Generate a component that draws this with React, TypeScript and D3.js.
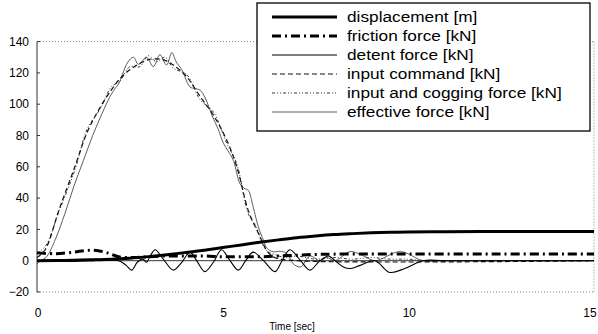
import React from "react";
import * as d3 from "d3";

// ---- data ----
const yTicks = [-20, 0, 20, 40, 60, 80, 100, 120, 140];
const xTicks = [0, 5, 10, 15];

const dispT = [0, 1, 1.5, 2, 2.5, 3, 3.5, 4, 4.5, 5, 5.5, 6, 6.5, 7, 7.5, 8, 8.5, 9, 9.5, 10, 11, 12, 13, 14, 15];
const dispV = [0, 0.2, 0.5, 0.9, 1.6, 2.6, 3.8, 5.2, 6.7, 8.4, 10.1, 11.8, 13.3, 14.7, 15.8, 16.7, 17.3, 17.8, 18.1, 18.3, 18.5, 18.6, 18.6, 18.6, 18.6];

const fricT = [0, 0.5, 1, 1.3, 1.6, 1.9, 2.2, 2.6, 3, 3.5, 4, 4.5, 5, 5.5, 6, 6.5, 7, 7.5, 8, 9, 10, 12, 15];
const fricV = [5, 4.5, 5.5, 6.5, 6.5, 5, 2.5, 2, 2.5, 3, 3, 3, 2.5, 2.5, 2.5, 3, 3.5, 4, 4.2, 4.3, 4.3, 4.3, 4.3];

const detT = [0, 2.2, 2.4, 2.55, 2.7, 2.85, 2.95, 3.05, 3.18, 3.4, 3.67, 3.9, 4.12, 4.3, 4.52, 4.75, 4.97, 5.2, 5.42, 5.62, 5.82, 6.1, 6.41, 6.6, 6.81, 7.1, 7.35, 7.62, 7.85, 8.03, 8.25, 8.45, 8.7, 9.1, 9.5, 9.9, 10.4, 11, 15];
const detV = [0, 0, -3, -6, -1, 1, -1, 3, 7, 1, -6, -1, 5.5, 0, -7, -1, 7, 0, -6, 0, 5.5, 0, -7, 0, 7, 0, -6, 0, 3, 0, -4, -5, -3, 0, -7.5, -5, 0, 0, 0];

const inT = [0, 0.22, 0.6, 1.02, 1.35, 1.7, 2, 2.24, 2.5, 2.77, 3, 3.22, 3.45, 3.67, 4.03, 4.39, 4.75, 5.11, 5.38, 5.69, 5.92, 6.05, 6.2, 6.4, 7, 15];
const inV = [2, 7, 33, 60, 82, 98, 109, 116.5, 122, 126, 128.5, 129, 128, 125, 117.6, 105, 93, 77, 60, 32, 19.6, 13, 6, 2, 0, 0];

const icT = [0, 0.22, 0.6, 1.02, 1.35, 1.7, 2, 2.24, 2.5, 2.77, 3, 3.22, 3.45, 3.67, 4.03, 4.39, 4.75, 5.11, 5.38, 5.69, 5.92, 6.05, 6.2, 6.4, 6.7, 7, 7.5, 8, 8.5, 9, 9.5, 10, 10.4, 11, 15];
const icV = [5, 9, 32, 58, 84, 97, 111, 115, 124, 124, 131, 127, 130, 123, 119, 103, 95, 75, 62, 30, 21, 12, 6, 4, 2, 3, 1, 2, 1, 2, 1, 1, 0, 0, 0];

const effT = [0, 0.1, 0.26, 0.5, 0.75, 1, 1.25, 1.5, 1.75, 1.97, 2.1, 2.2, 2.3, 2.45, 2.6, 2.73, 2.95, 3.13, 3.31, 3.49, 3.63, 3.75, 3.9, 4.12, 4.25, 4.39, 4.53, 4.71, 4.88, 5.02, 5.15, 5.29, 5.47, 5.6, 5.69, 5.82, 5.96, 6.1, 6.19, 6.36, 6.54, 6.72, 6.9, 7.1, 7.35, 7.62, 7.8, 8.03, 8.43, 8.8, 9.1, 9.78, 10.4, 11, 15];
const effV = [-2, 0, 2.6, 14, 30, 48, 64, 80, 94, 105, 110, 113, 119, 127, 130, 125.5, 130, 124, 131.6, 125, 133, 127, 122, 111, 110, 109, 104, 93, 84, 75, 70, 64, 49, 46, 45, 34.5, 21.7, 13, 8, 5.7, 6, 4.7, -2, -4, 3, 0, 2, 0, 5.8, 3, 0, 5.8, 0, 0, 0];

const legendLabels = [
  "displacement [m]",
  "friction force [kN]",
  "detent force [kN]",
  "input command [kN]",
  "input and cogging force [kN]",
  "effective force [kN]",
];

type Style = { w: number; dash: string; color: string };
const styles: Style[] = [
  { w: 3, dash: "", color: "#000" },
  { w: 3, dash: "9,4,2,4", color: "#000" },
  { w: 1.1, dash: "", color: "#000" },
  { w: 1.2, dash: "5,3", color: "#111" },
  { w: 0.9, dash: "3,2,1,2,1,2", color: "#222" },
  { w: 0.8, dash: "", color: "#333" },
];

const series = [
  { t: dispT, v: dispV },
  { t: fricT, v: fricV },
  { t: detT, v: detV },
  { t: inT, v: inV },
  { t: icT, v: icV },
  { t: effT, v: effV },
];

export default function App() {
  const W = 598, H = 334;
  const x = d3.scaleLinear().domain([0, 15]).range([37, 594]);
  const y = d3.scaleLinear().domain([-20, 140]).range([292, 41.6]);
  const line = d3
    .line<[number, number]>()
    .x((d) => x(d[0]))
    .y((d) => y(d[1]))
    .curve(d3.curveCatmullRom.alpha(0.5));

  const font = "'Liberation Sans', Arial, sans-serif";
  const legX = 257, legY = 3, legW = 333, legH = 128;
  const rowY = (i: number) => 17 + i * 19;

  const order = [5, 4, 3, 2, 1, 0];

  return (
    <svg width={W} height={H} style={{ position: "absolute", left: 0, top: 0, background: "#fff" }} fontFamily={font}>
      <rect x={0} y={0} width={W} height={H} fill="#fff" />
      {/* frame */}
      <line x1={x(0)} x2={x(15)} y1={y(140)} y2={y(140)} stroke="#666" strokeWidth={0.8} strokeDasharray="1,2" />
      <line x1={x(0)} x2={x(15)} y1={y(-20)} y2={y(-20)} stroke="#666" strokeWidth={0.8} strokeDasharray="1,2" />
      <line x1={x(15)} x2={x(15)} y1={y(140)} y2={y(-20)} stroke="#666" strokeWidth={0.8} strokeDasharray="1,2" />
      <line x1={x(0)} x2={x(15)} y1={y(0)} y2={y(0)} stroke="#000" strokeWidth={0.8} />
      <line x1={x(0)} x2={x(0)} y1={y(140)} y2={y(-20)} stroke="#333" strokeWidth={1} />
      {yTicks.map((v) => (
        <g key={v}>
          <line x1={x(0)} x2={x(0) + 3} y1={y(v)} y2={y(v)} stroke="#333" strokeWidth={1} />
          <text x={29} y={y(v)} dy="0.35em" textAnchor="end" fontSize={12} fill="#000">
            {v < 0 ? "\u2212" + Math.abs(v) : v}
          </text>
        </g>
      ))}
      {xTicks.map((v) => (
        <text key={v} x={Math.min(x(v) + 1, 590)} y={317} textAnchor="middle" fontSize={12} fill="#000">
          {v}
        </text>
      ))}
      <text x={292} y={330} textAnchor="middle" fontSize={10} fill="#000">
        Time [sec]
      </text>

      {/* series */}
      {order.map((i) => {
        const s = series[i];
        const pts = s.t.map((t, k) => [t, s.v[k]] as [number, number]);
        return (
          <path
            key={i}
            d={line(pts) || ""}
            fill="none"
            stroke={styles[i].color}
            strokeWidth={styles[i].w}
            strokeDasharray={styles[i].dash || undefined}
            strokeLinejoin="round"
          />
        );
      })}

      {/* legend */}
      <rect x={legX} y={legY} width={legW} height={legH} fill="#fff" stroke="#000" strokeWidth={1.3} />
      {legendLabels.map((lab, i) => (
        <g key={lab}>
          <line
            x1={272}
            x2={337}
            y1={rowY(i)}
            y2={rowY(i)}
            stroke={styles[i].color}
            strokeWidth={styles[i].w}
            strokeDasharray={styles[i].dash || undefined}
          />
          <g transform={`translate(347,${rowY(i)}) scale(1.15,1)`}>
            <text x={0} y={0} dy="0.35em" fontSize={15} fill="#000">
              {lab}
            </text>
          </g>
        </g>
      ))}
    </svg>
  );
}
